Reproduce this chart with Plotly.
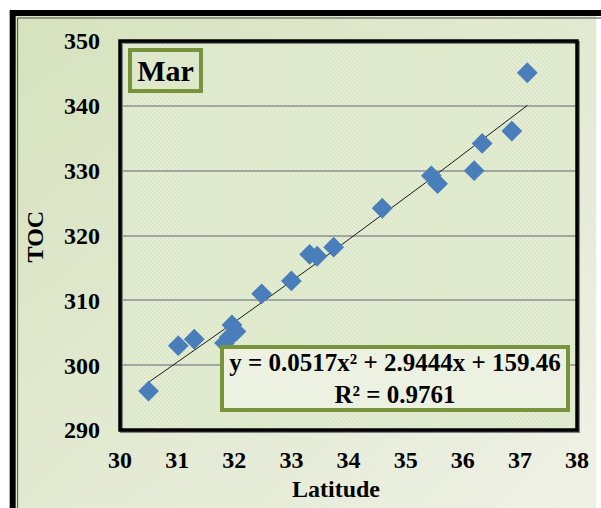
import base64
import numpy as np
import plotly.graph_objects as go

# ---- data ----
latitude = [30.50, 31.02, 31.30, 31.83, 31.91, 31.96, 32.03, 32.48, 33.00,
            33.32, 33.45, 33.74, 34.59, 35.45, 35.56, 36.20, 36.34, 36.86, 37.13]
toc = [296.0, 303.0, 304.0, 303.4, 304.3, 306.2, 305.2, 311.0, 313.0,
       317.1, 316.8, 318.2, 324.2, 329.2, 328.0, 330.0, 334.2, 336.1, 345.1]
poly_coef = [0.0517, 2.9444, 159.46]          # y = a x^2 + b x + c
equation_text = "y = 0.0517x² + 2.9444x + 159.46<br>R² = 0.9761"
panel_label = "Mar"
x_ticks = [30, 31, 32, 33, 34, 35, 36, 37, 38]
y_ticks = [290, 300, 310, 320, 330, 340, 350]

# ---- geometry ----
W, H = 601, 508
L, R, T, B = 119.5, 19.5, 41, 78
PW, PH = W - L - R, H - T - B


def px(xp):
    return (xp - L) / PW


def py(yp):
    return (H - B - yp) / PH


FONT = "Liberation Serif, Times New Roman, serif"
GREEN = "#77933c"

# background (gradient + dotted plot-area texture) as an svg image
svg = f'''<svg xmlns="http://www.w3.org/2000/svg" width="{W}" height="{H}" viewBox="0 0 {W} {H}">
<defs>
<linearGradient id="g" x1="0" y1="0" x2="1" y2="1">
<stop offset="0" stop-color="#d6e2bd"/><stop offset="1" stop-color="#eff1e6"/></linearGradient>
<pattern id="p" width="4" height="4" patternUnits="userSpaceOnUse">
<rect width="4" height="4" fill="#dce7c8"/>
<rect x="0" y="0" width="1" height="1" fill="#f1f5e9"/>
<rect x="2" y="2" width="1" height="1" fill="#f1f5e9"/>
<rect x="1" y="1" width="1" height="1" fill="#e6eed8"/>
<rect x="3" y="3" width="1" height="1" fill="#e6eed8"/>
</pattern></defs>
<rect width="{W}" height="{H}" fill="#ffffff"/>
<rect x="9" y="11" width="{W}" height="{H}" fill="url(#g)"/>
<rect x="{L}" y="{T}" width="{PW}" height="{PH}" fill="url(#p)"/>
</svg>'''
svg_src = "data:image/svg+xml;base64," + base64.b64encode(svg.encode()).decode()

fig = go.Figure()

# trend line from fitted polynomial
xt = np.linspace(min(latitude), max(latitude), 120)
yt = np.polyval(poly_coef, xt)
fig.add_trace(go.Scatter(x=xt, y=yt, mode="lines",
                         line=dict(color="#1a1a1a", width=1), hoverinfo="skip",
                         showlegend=False))

fig.add_trace(go.Scatter(x=latitude, y=toc, mode="markers",
                         marker=dict(symbol="diamond", size=16, color="#4a7ebb",
                                     line=dict(width=0)),
                         showlegend=False))

fig.update_layout(
    width=W, height=H,
    margin=dict(l=L, r=R, t=T, b=B, pad=0),
    paper_bgcolor="#ffffff",
    plot_bgcolor="rgba(0,0,0,0)",
    font=dict(family=FONT, size=24, color="#000000"),
    images=[dict(source=svg_src, xref="paper", yref="paper",
                 x=px(0), y=py(0), sizex=W / PW, sizey=H / PH,
                 xanchor="left", yanchor="top", sizing="stretch", layer="below")],
    xaxis=dict(range=[30, 38], tickvals=x_ticks, ticks="", showgrid=False,
               zeroline=False, showline=False, ticklabelstandoff=13,
               tickfont=dict(family=FONT, size=24, weight="bold")),
    yaxis=dict(range=[290, 350], tickvals=y_ticks, ticks="", showgrid=True,
               gridcolor="#a3a6a0", gridwidth=1.5, zeroline=False, showline=False,
               ticklabelstandoff=19,
               tickfont=dict(family=FONT, size=24, weight="bold")),
    shapes=[
        # outer frame
        dict(type="rect", xref="paper", yref="paper", x0=px(11), y0=py(900),
             x1=px(900), y1=py(13), line=dict(color="#000000", width=6)),
        dict(type="rect", xref="paper", yref="paper", x0=px(16), y0=py(900),
             x1=px(900), y1=py(18), line=dict(color="#4d4d4d", width=1)),
        # plot area border shadow + border
        dict(type="rect", xref="paper", yref="paper", x0=px(L + 1.5), y0=py(H - B + 1.5),
             x1=px(L + PW + 1.5), y1=py(T + 1.5), line=dict(color="#7f7f7f", width=3)),
        dict(type="rect", xref="paper", yref="paper", x0=0, y0=0, x1=1, y1=1,
             line=dict(color="#000000", width=3.5)),
    ],
    annotations=[
        dict(text=panel_label, xref="paper", yref="paper", x=px(165.2), y=py(70.8),
             xanchor="center", yanchor="middle", showarrow=False,
             font=dict(family=FONT, size=30, weight="bold"),
             bgcolor="#dee8cb", bordercolor=GREEN, borderwidth=4, borderpad=2,
             width=63, height=33),
        dict(text=equation_text, xref="paper", yref="paper", x=px(397.7), y=py(378.3),
             xanchor="center", yanchor="middle", showarrow=False, align="center",
             font=dict(family=FONT, size=25, weight="bold"),
             bgcolor="#ecf1e2", bordercolor=GREEN, borderwidth=4, borderpad=2,
             width=338, height=55),
        dict(text="Latitude", xref="paper", yref="paper", x=px(338), y=py(489),
             xanchor="center", yanchor="middle", showarrow=False,
             font=dict(family=FONT, size=24, weight="bold")),
        dict(text="TOC", xref="paper", yref="paper", x=px(34), y=py(236),
             xanchor="center", yanchor="middle", showarrow=False, textangle=-90,
             font=dict(family=FONT, size=24, weight="bold")),
    ],
)

fig.write_html("out.html")
